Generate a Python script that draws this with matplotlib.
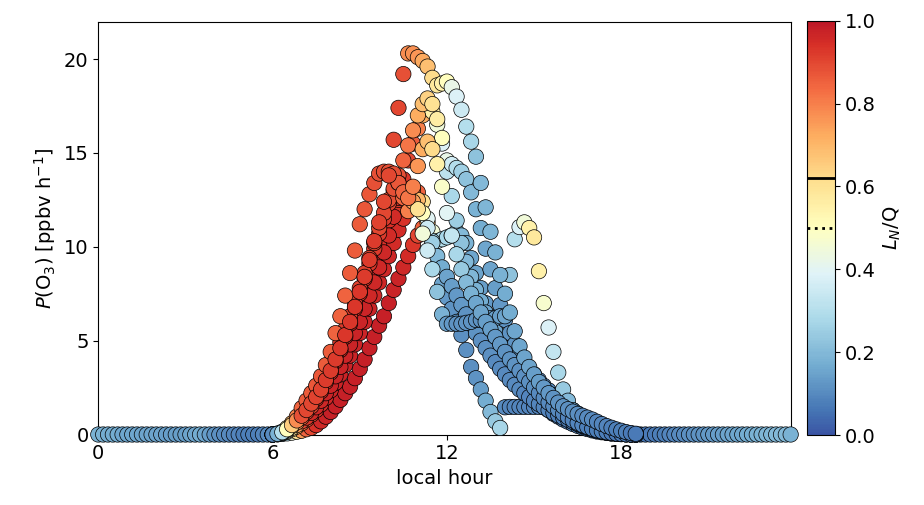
import numpy as np
import matplotlib
matplotlib.use("Agg")
import matplotlib.pyplot as plt
from matplotlib.colors import LinearSegmentedColormap

# 10-minute samples; daytime window 06:00 - 18:30 (76 samples per day)
day_hours = 6 + np.arange(76) / 6.0
night_am_hours = np.arange(36) / 6.0
night_pm_hours = 18 + np.arange(4, 36) / 6.0

# night: P(O3) = 0, colour only
night_am_p = [0] * 36
night_am_L = [0.18, 0.18, 0.17, 0.17, 0.17, 0.16,
              0.16, 0.16, 0.16, 0.15, 0.15, 0.15,
              0.15, 0.15, 0.14, 0.14, 0.14, 0.14,
              0.14, 0.15, 0.16, 0.17, 0.16, 0.14,
              0.12, 0.11, 0.10, 0.10, 0.09, 0.09,
              0.08, 0.08, 0.08, 0.08, 0.09, 0.10]
night_pm_p = [0] * 32
night_pm_L = [0.06, 0.06,
              0.07, 0.07, 0.08, 0.08, 0.09, 0.09,
              0.10, 0.10, 0.11, 0.11, 0.12, 0.12,
              0.13, 0.13, 0.14, 0.14, 0.15, 0.15,
              0.16, 0.16, 0.17, 0.17, 0.18, 0.18,
              0.19, 0.19, 0.20, 0.20, 0.20, 0.18]

# daytime P(O3) [ppbv/h], one row per hour (6..17) + 18:00-18:30
p_day1 = [0.0, 0.05, 0.15, 0.35, 0.6, 0.95,
          1.4, 1.8, 2.2, 2.6, 3.1, 3.7,
          4.4, 5.4, 6.3, 7.4, 8.6, 9.8,
          11.2, 12.0, 12.8, 13.4, 13.9, 14.0,
          14.0, 13.9, 13.4, 12.9, 12.6, 13.2,
          14.3, 15.2, 15.6, 15.2, 14.4, 13.2,
          11.8, 10.6, 9.6, 8.8, 8.1, 7.5,
          7.0, 6.5, 6.0, 5.6, 5.2, 4.8,
          4.4, 4.0, 3.7, 3.4, 3.1, 2.8,
          2.5, 2.2, 1.95, 1.7, 1.5, 1.3,
          1.1, 0.92, 0.76, 0.62, 0.5, 0.4,
          0.31, 0.23, 0.17, 0.12, 0.08, 0.05,
          0.03, 0.01, 0.0, 0.0]
p_day2 = [0.0, 0.04, 0.12, 0.28, 0.5, 0.75,
          1.0, 1.3, 1.65, 2.0, 2.4, 2.9,
          3.4, 4.0, 4.6, 5.3, 6.0, 6.8,
          7.6, 8.4, 9.3, 10.3, 11.3, 12.4,
          13.8, 15.7, 17.4, 19.2, 20.3, 20.3,
          20.1, 19.9, 19.6, 19.0, 18.6, 18.7,
          18.8, 18.5, 18.0, 17.3, 16.4, 15.6,
          14.8, 13.4, 12.1, 10.8, 9.7, 8.5,
          7.5, 6.5, 5.5, 4.7, 4.1, 3.6,
          3.2, 2.8, 2.5, 2.2, 1.95, 1.7,
          1.5, 1.35, 1.22, 1.1, 1.0, 0.9,
          0.8, 0.68, 0.56, 0.45, 0.36, 0.27,
          0.2, 0.13, 0.08, 0.04]
p_day3 = [0.0, 0.02, 0.08, 0.2, 0.35, 0.5,
          0.7, 0.9, 1.15, 1.45, 1.8, 2.2,
          2.6, 3.1, 3.6, 4.2, 4.8, 5.4,
          6.0, 6.7, 7.4, 8.1, 8.9, 9.7,
          10.6, 11.6, 12.6, 13.6, 14.6, 15.5,
          16.3, 17.0, 17.5, 17.2, 16.5, 15.5,
          14.0, 12.7, 11.4, 10.2, 9.2, 8.4,
          7.7, 7.1, 6.5, 6.0, 5.5, 5.0,
          4.6, 4.2, 3.85, 3.5, 3.2, 2.9,
          2.6, 2.35, 2.1, 1.9, 1.7, 1.5,
          1.3, 1.15, 1.0, 0.85, 0.72, 0.6,
          0.48, 0.38, 0.29, 0.21, 0.15, 0.1,
          0.06, 0.03, 0.01, 0.0]
p_day4 = [0.0, 0.01, 0.03, 0.06, 0.1, 0.15,
          0.2, 0.28, 0.36, 0.5, 0.7, 0.95,
          1.2, 1.5, 1.85, 2.2, 2.55, 3.0,
          3.5, 4.0, 4.6, 5.2, 5.8, 6.3,
          7.0, 7.7, 8.3, 8.9, 9.5, 10.1,
          10.6, 11.0, 11.3, 10.8, 10.3, 10.4,
          10.5, 10.6, 10.8, 10.6, 10.2, 9.4,
          8.6, 7.8, 7.0, 6.3, 5.6, 5.0,
          4.4, 3.9, 3.4, 3.0, 2.6, 2.3,
          2.0, 1.75, 1.5, 1.3, 1.1, 0.95,
          0.8, 0.68, 0.56, 0.46, 0.37, 0.29,
          0.22, 0.16, 0.12, 0.08, 0.05, 0.03,
          0.02, 0.01, 0.0, 0.0]
p_day5 = [0.0, 0.03, 0.1, 0.25, 0.45, 0.65,
          0.9, 1.2, 1.5, 1.9, 2.3, 2.8,
          3.3, 3.9, 4.5, 5.2, 5.9, 6.7,
          7.5, 8.3, 9.1, 9.9, 10.7, 11.5,
          12.3, 13.0, 13.8, 14.6, 15.4, 16.2,
          17.0, 17.6, 17.9, 17.6, 16.8, 15.8,
          14.6, 14.4, 14.2, 14.0, 13.6, 12.9,
          12.0, 11.0, 9.9, 8.8, 7.8, 6.9,
          6.1, 5.4, 4.8, 4.3, 3.9, 3.5,
          3.2, 2.9, 2.6, 2.35, 2.1, 1.9,
          1.7, 1.5, 1.3, 1.12, 0.95, 0.8,
          0.66, 0.53, 0.42, 0.32, 0.24, 0.17,
          0.11, 0.07, 0.04, 0.02]
p_day6 = [0.0, 0.02, 0.1, 0.3, 0.55, 0.8,
          1.1, 1.4, 1.75, 2.15, 2.6, 3.1,
          3.6, 4.2, 4.9, 5.6, 6.3, 7.0,
          7.8, 8.6, 9.4, 10.2, 11.0, 11.8,
          12.5, 13.1, 13.4, 12.6, 11.9, 12.4,
          12.0, 10.7, 9.8, 8.8, 7.6, 6.4,
          5.9, 5.9, 5.9, 5.9, 5.95, 6.0,
          6.1, 6.1, 6.2, 6.2, 6.2, 6.3,
          6.3, 8.5, 10.4, 11.05, 11.3, 11.0,
          10.5, 8.7, 7.0, 5.7, 4.4, 3.3,
          2.4, 1.8, 1.3, 0.95, 0.7, 0.5,
          0.36, 0.26, 0.18, 0.12, 0.08, 0.05,
          0.03, 0.01, 0.0, 0.0]
p_day7 = [0.0, 0.02, 0.06, 0.15, 0.28, 0.42,
          0.6, 0.8, 1.05, 1.3, 1.6, 1.95,
          2.35, 2.75, 3.2, 3.7, 4.2, 4.8,
          5.4, 6.0, 6.7, 7.4, 8.1, 8.8,
          9.5, 10.2, 10.9, 11.5, 12.1, 12.6,
          12.9, 12.4, 11.5, 10.3, 9.0, 8.0,
          7.3, 6.7, 6.0, 5.3, 4.5, 3.6,
          3.0, 2.4, 1.8, 1.2, 0.7, 0.35,
          1.45, 1.47, 1.47, 1.47, 1.47, 1.47,
          1.47, 1.47, 1.47, 1.45, 1.35, 1.2,
          1.0, 0.85, 0.7, 0.56, 0.45, 0.35,
          0.27, 0.2, 0.14, 0.1, 0.06, 0.04,
          0.02, 0.01, 0.0, 0.0]
p_day8 = [0.0, 0.03, 0.12, 0.28, 0.48, 0.7,
          0.95, 1.25, 1.6, 2.0, 2.45, 2.95,
          3.5, 4.05, 4.65, 5.3, 5.95, 6.6,
          7.3, 8.0, 8.7, 9.4, 10.1, 10.8,
          11.4, 12.0, 12.5, 12.9, 13.2, 13.0,
          12.5, 11.8, 11.0, 10.2, 9.5, 8.9,
          8.4, 7.9, 7.4, 6.9, 6.4, 5.9,
          5.4, 5.0, 4.6, 4.2, 3.85, 3.5,
          3.2, 2.9, 2.65, 2.4, 2.2, 2.0,
          1.8, 1.62, 1.45, 1.3, 1.15, 1.02,
          0.9, 0.78, 0.67, 0.57, 0.48, 0.4,
          0.32, 0.25, 0.19, 0.14, 0.1, 0.07,
          0.04, 0.02, 0.01, 0.0]

# daytime L_N/Q
L_day1 = [0.12, 0.2, 0.35, 0.55, 0.7, 0.8,
          0.85, 0.86, 0.86, 0.87, 0.87, 0.86,
          0.86, 0.85, 0.85, 0.85, 0.86, 0.86,
          0.86, 0.87, 0.87, 0.88, 0.88, 0.88,
          0.88, 0.88, 0.87, 0.85, 0.82, 0.8,
          0.76, 0.72, 0.68, 0.62, 0.55, 0.48,
          0.4, 0.33, 0.28, 0.24, 0.2, 0.18,
          0.16, 0.15, 0.14, 0.14, 0.13, 0.13,
          0.12, 0.12, 0.12, 0.11, 0.11, 0.11,
          0.11, 0.1, 0.1, 0.1, 0.1, 0.1,
          0.09, 0.09, 0.09, 0.09, 0.09, 0.08,
          0.08, 0.08, 0.08, 0.08, 0.07, 0.07,
          0.07, 0.07, 0.07, 0.07]
L_day2 = [0.1, 0.18, 0.3, 0.5, 0.65, 0.78,
          0.88, 0.9, 0.9, 0.91, 0.91, 0.92,
          0.92, 0.92, 0.93, 0.93, 0.93, 0.93,
          0.93, 0.92, 0.92, 0.92, 0.91, 0.9,
          0.9, 0.9, 0.9, 0.88, 0.78, 0.77,
          0.76, 0.73, 0.68, 0.62, 0.58, 0.55,
          0.5, 0.42, 0.38, 0.35, 0.3, 0.27,
          0.22, 0.2, 0.19, 0.19, 0.18, 0.18,
          0.17, 0.17, 0.16, 0.16, 0.15, 0.15,
          0.14, 0.14, 0.13, 0.13, 0.12, 0.12,
          0.12, 0.11, 0.11, 0.11, 0.1, 0.1,
          0.1, 0.09, 0.09, 0.09, 0.08, 0.08,
          0.08, 0.08, 0.07, 0.07]
L_day3 = [0.1, 0.15, 0.25, 0.4, 0.6, 0.75,
          0.9, 0.93, 0.95, 0.96, 0.96, 0.97,
          0.97, 0.97, 0.97, 0.97, 0.97, 0.97,
          0.97, 0.97, 0.96, 0.96, 0.96, 0.96,
          0.95, 0.95, 0.94, 0.93, 0.9, 0.86,
          0.8, 0.72, 0.62, 0.55, 0.45, 0.38,
          0.32, 0.28, 0.25, 0.22, 0.2, 0.19,
          0.18, 0.17, 0.16, 0.15, 0.15, 0.14,
          0.14, 0.13, 0.13, 0.13, 0.12, 0.12,
          0.12, 0.11, 0.11, 0.11, 0.1, 0.1,
          0.1, 0.1, 0.09, 0.09, 0.09, 0.09,
          0.08, 0.08, 0.08, 0.08, 0.07, 0.07,
          0.07, 0.07, 0.06, 0.06]
L_day4 = [0.1, 0.12, 0.2, 0.3, 0.45, 0.6,
          0.75, 0.85, 0.9, 0.94, 0.96, 0.97,
          0.98, 0.98, 0.98, 0.98, 0.98, 0.98,
          0.98, 0.98, 0.98, 0.98, 0.98, 0.98,
          0.98, 0.97, 0.97, 0.96, 0.95, 0.93,
          0.9, 0.85, 0.7, 0.45, 0.35, 0.3,
          0.27, 0.24, 0.22, 0.2, 0.18, 0.16,
          0.15, 0.14, 0.13, 0.12, 0.12, 0.11,
          0.11, 0.11, 0.1, 0.1, 0.1, 0.1,
          0.09, 0.09, 0.09, 0.09, 0.09, 0.08,
          0.08, 0.08, 0.08, 0.08, 0.08, 0.07,
          0.07, 0.07, 0.07, 0.07, 0.07, 0.06,
          0.06, 0.06, 0.06, 0.06]
L_day5 = [0.12, 0.2, 0.35, 0.5, 0.62, 0.75,
          0.85, 0.88, 0.9, 0.92, 0.93, 0.93,
          0.94, 0.94, 0.94, 0.94, 0.94, 0.94,
          0.93, 0.93, 0.93, 0.92, 0.92, 0.92,
          0.91, 0.9, 0.88, 0.85, 0.82, 0.78,
          0.72, 0.68, 0.64, 0.6, 0.56, 0.5,
          0.42, 0.36, 0.3, 0.26, 0.22, 0.2,
          0.18, 0.17, 0.16, 0.15, 0.14, 0.13,
          0.12, 0.12, 0.12, 0.11, 0.11, 0.11,
          0.1, 0.1, 0.1, 0.1, 0.09, 0.09,
          0.09, 0.09, 0.09, 0.08, 0.08, 0.08,
          0.08, 0.08, 0.07, 0.07, 0.07, 0.07,
          0.07, 0.07, 0.06, 0.06]
L_day6 = [0.1, 0.2, 0.4, 0.55, 0.7, 0.8,
          0.86, 0.88, 0.9, 0.9, 0.91, 0.91,
          0.92, 0.92, 0.92, 0.92, 0.92, 0.92,
          0.91, 0.91, 0.9, 0.9, 0.9, 0.9,
          0.89, 0.88, 0.86, 0.84, 0.8, 0.75,
          0.6, 0.45, 0.35, 0.28, 0.22, 0.18,
          0.14, 0.13, 0.12, 0.12, 0.12, 0.12,
          0.12, 0.12, 0.13, 0.13, 0.14, 0.14,
          0.15, 0.22, 0.3, 0.38, 0.45, 0.55,
          0.58, 0.55, 0.47, 0.38, 0.33, 0.28,
          0.24, 0.2, 0.17, 0.15, 0.13, 0.12,
          0.11, 0.1, 0.09, 0.09, 0.08, 0.08,
          0.07, 0.07, 0.07, 0.06]
L_day7 = [0.1, 0.15, 0.28, 0.45, 0.6, 0.72,
          0.82, 0.87, 0.9, 0.93, 0.95, 0.96,
          0.96, 0.97, 0.97, 0.97, 0.97, 0.97,
          0.97, 0.97, 0.97, 0.96, 0.96, 0.96,
          0.96, 0.95, 0.95, 0.94, 0.93, 0.9,
          0.85, 0.6, 0.4, 0.25, 0.18, 0.15,
          0.13, 0.12, 0.12, 0.11, 0.11, 0.11,
          0.12, 0.14, 0.17, 0.2, 0.24, 0.27,
          0.1, 0.09, 0.09, 0.09, 0.09, 0.09,
          0.09, 0.09, 0.09, 0.09, 0.1, 0.1,
          0.1, 0.09, 0.09, 0.09, 0.08, 0.08,
          0.08, 0.08, 0.07, 0.07, 0.07, 0.07,
          0.07, 0.06, 0.06, 0.06]
L_day8 = [0.12, 0.2, 0.35, 0.5, 0.65, 0.78,
          0.88, 0.92, 0.94, 0.95, 0.96, 0.96,
          0.96, 0.96, 0.96, 0.96, 0.96, 0.95,
          0.95, 0.95, 0.95, 0.95, 0.94, 0.94,
          0.94, 0.93, 0.93, 0.92, 0.9, 0.85,
          0.7, 0.5, 0.35, 0.25, 0.2, 0.17,
          0.15, 0.14, 0.13, 0.13, 0.12, 0.12,
          0.12, 0.11, 0.11, 0.11, 0.1, 0.1,
          0.1, 0.1, 0.1, 0.1, 0.09, 0.09,
          0.09, 0.09, 0.09, 0.09, 0.08, 0.08,
          0.08, 0.08, 0.08, 0.08, 0.07, 0.07,
          0.07, 0.07, 0.07, 0.07, 0.06, 0.06,
          0.06, 0.06, 0.06, 0.06]

# draw order (last on top)
days = [(p_day4, L_day4), (p_day7, L_day7), (p_day8, L_day8), (p_day3, L_day3),
        (p_day5, L_day5), (p_day6, L_day6), (p_day1, L_day1), (p_day2, L_day2)]

# RdYlBu_r without its darkest ends
base = plt.get_cmap("RdYlBu_r")
cmap = LinearSegmentedColormap.from_list("rdylbu_trim", base(np.linspace(0.05, 0.95, 256)))

plt.rcParams["font.family"] = "DejaVu Sans"
fig = plt.figure(figsize=(9.24, 5.05), dpi=100)
ax = fig.add_axes([0.1064, 0.1396, 0.7493, 0.8178])
cax = fig.add_axes([0.8739, 0.1386, 0.0303, 0.8204])

kw = dict(cmap=cmap, vmin=0, vmax=1, s=122, edgecolors="k",
          linewidths=0.5, clip_on=False, zorder=3)
ax.scatter(night_am_hours, night_am_p, c=night_am_L, **kw)
ax.scatter(night_pm_hours, night_pm_p, c=night_pm_L, **kw)
for p, L in days:
    assert len(p) == 76 and len(L) == 76
    sc = ax.scatter(day_hours, p, c=L, **kw)

ax.set_xlim(0, 23 + 5 / 6.0)
ax.set_ylim(0, 22)
ax.set_xticks([0, 6, 12, 18])
ax.set_yticks([0, 5, 10, 15, 20])
ax.tick_params(labelsize=14)
ax.set_xlabel("local hour", fontsize=14)
ax.set_ylabel(r"$P$(O$_3$) [ppbv h$^{-1}$]", fontsize=14)

cb = fig.colorbar(sc, cax=cax)
cb.set_ticks([0.0, 0.2, 0.4, 0.6, 0.8, 1.0])
cb.ax.tick_params(labelsize=14)
cb.set_label(r"$L_N$/Q", fontsize=14)
cb.ax.axhline(0.62, color="k", lw=2)
cb.ax.axhline(0.5, color="k", lw=2, ls=":")

fig.savefig("out.png", dpi=100)
